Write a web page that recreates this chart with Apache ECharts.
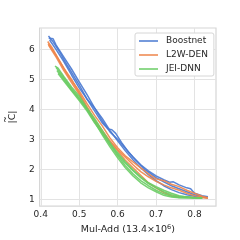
<!DOCTYPE html>
<html><head><meta charset="utf-8">
<script src="https://cdn.jsdelivr.net/npm/echarts@6/dist/echarts.min.js"></script>
<style>html,body{margin:0;padding:0;background:#fff}#c{width:240px;height:240px}</style>
</head><body><div id="c"></div>
<script>
const xTicks = [0.4, 0.5, 0.6, 0.7, 0.8];
const yTicks = [1, 2, 3, 4, 5, 6];
const seriesNames = ['Boostnet', 'L2W-DEN', 'JEI-DNN'];
const colors = ['#4878d0', '#ee854a', '#6acc64'];

const boost1 = [[0.420,6.45],[0.425,6.38],[0.432,6.36],[0.44,6.15],[0.46,5.75],[0.48,5.35],[0.50,4.92],[0.52,4.5],[0.54,4.05],[0.56,3.62],[0.58,3.25],[0.60,3.0],[0.62,2.7],[0.64,2.4],[0.66,2.15],[0.68,1.95],[0.70,1.78],[0.72,1.65],[0.735,1.57],[0.745,1.58],[0.76,1.48],[0.78,1.38],[0.79,1.35],[0.80,1.2],[0.82,1.12],[0.835,1.08]];
const boost2 = [[0.421,6.40],[0.43,6.3],[0.45,5.9],[0.47,5.45],[0.50,4.82],[0.52,4.35],[0.54,3.95],[0.56,3.55],[0.575,3.35],[0.585,3.32],[0.595,3.2],[0.61,2.9],[0.63,2.55],[0.65,2.28],[0.67,2.0],[0.70,1.72],[0.72,1.58],[0.74,1.45],[0.76,1.35],[0.78,1.25],[0.80,1.15],[0.82,1.08],[0.835,1.05]];
const boost3 = [[0.423,6.32],[0.44,6.0],[0.46,5.6],[0.48,5.15],[0.50,4.72],[0.52,4.35],[0.54,4.05],[0.56,3.7],[0.58,3.3],[0.60,2.95],[0.62,2.62],[0.64,2.32],[0.66,2.05],[0.68,1.82],[0.70,1.62],[0.72,1.45],[0.74,1.32],[0.76,1.22],[0.78,1.15],[0.80,1.1],[0.82,1.07],[0.835,1.05]];

const l2w1 = [[0.418,6.27],[0.43,6.05],[0.45,5.6],[0.47,5.15],[0.50,4.62],[0.52,4.2],[0.54,3.8],[0.56,3.45],[0.58,3.05],[0.60,2.72],[0.62,2.45],[0.64,2.25],[0.66,2.05],[0.68,1.85],[0.70,1.68],[0.72,1.62],[0.74,1.5],[0.76,1.42],[0.78,1.3],[0.80,1.2],[0.82,1.1],[0.835,1.05]];
const l2w2 = [[0.419,6.2],[0.44,5.8],[0.46,5.38],[0.48,5.0],[0.50,4.55],[0.52,4.1],[0.54,3.65],[0.56,3.3],[0.58,2.95],[0.60,2.65],[0.62,2.4],[0.64,2.15],[0.66,1.92],[0.68,1.75],[0.70,1.6],[0.72,1.48],[0.74,1.38],[0.76,1.3],[0.78,1.2],[0.80,1.12],[0.82,1.07],[0.835,1.04]];
const l2w3 = [[0.42,6.15],[0.44,5.75],[0.46,5.3],[0.48,4.9],[0.50,4.5],[0.52,4.05],[0.54,3.62],[0.56,3.25],[0.58,2.92],[0.60,2.62],[0.62,2.3],[0.64,2.05],[0.66,1.8],[0.68,1.55],[0.70,1.38],[0.72,1.22],[0.74,1.12],[0.76,1.07],[0.78,1.08],[0.80,1.06],[0.835,1.04]];

const jei1 = [[0.437,5.45],[0.445,5.38],[0.46,5.1],[0.48,4.75],[0.50,4.45],[0.52,4.05],[0.54,3.7],[0.56,3.3],[0.58,2.9],[0.60,2.5],[0.62,2.2],[0.64,1.95],[0.66,1.72],[0.68,1.52],[0.70,1.38],[0.72,1.25],[0.74,1.15],[0.76,1.1],[0.78,1.08],[0.80,1.05],[0.82,1.04]];
const jei2 = [[0.44,5.4],[0.46,5.05],[0.48,4.7],[0.50,4.38],[0.52,4.0],[0.54,3.62],[0.56,3.22],[0.58,2.82],[0.60,2.45],[0.62,2.12],[0.64,1.85],[0.66,1.62],[0.68,1.45],[0.70,1.3],[0.72,1.18],[0.74,1.1],[0.76,1.06],[0.80,1.04],[0.82,1.03]];
const jei3 = [[0.442,5.3],[0.46,5.0],[0.48,4.65],[0.50,4.35],[0.52,4.0],[0.54,3.58],[0.56,3.15],[0.58,2.75],[0.60,2.38],[0.62,2.05],[0.64,1.78],[0.66,1.55],[0.68,1.38],[0.70,1.25],[0.72,1.13],[0.74,1.07],[0.76,1.05],[0.80,1.04],[0.82,1.03]];
const jei4 = [[0.445,5.2],[0.46,4.95],[0.48,4.62],[0.50,4.3],[0.52,3.95],[0.54,3.55],[0.56,3.2],[0.58,2.85],[0.60,2.55],[0.62,2.25],[0.64,1.98],[0.66,1.75],[0.68,1.55],[0.70,1.42],[0.72,1.3],[0.74,1.2],[0.76,1.12],[0.78,1.07],[0.80,1.05],[0.82,1.04]];

const runs = [[boost1, boost2, boost3], [l2w1, l2w2, l2w3], [jei1, jei2, jei3, jei4]];

const FONT = 'DejaVu Sans';
const TXT = '#262626';
const series = [];
runs.forEach((group, gi) => {
  group.forEach(run => {
    series.push({
      type: 'line', name: seriesNames[gi], data: run, showSymbol: false,
      symbol: 'none', silent: true, animation: false,
      lineStyle: {color: colors[gi], width: 1.5, opacity: 0.9},
      itemStyle: {color: colors[gi]}
    });
  });
});

const chart = echarts.init(document.getElementById('c'), null, {renderer: 'canvas'});
chart.setOption({
  animation: false,
  backgroundColor: '#fff',
  grid: {left: 29.5, right: 24, top: 28, bottom: 30, show: true, borderColor: '#d6d6d6', borderWidth: 1.2, backgroundColor: 'transparent'},
  xAxis: {
    type: 'value', min: 0.397, max: 0.856,
    name: 'Mul-Add (13.4×10{sup|6})', nameLocation: 'middle', nameGap: 15,
    nameTextStyle: {fontFamily: FONT, fontSize: 9.5, color: TXT, rich: {sup: {fontSize: 6.5, verticalAlign: 'top', padding: [0,0,5,0], fontFamily: FONT, color: TXT}}},
    axisLine: {show: false}, axisTick: {show: false, customValues: xTicks},
    axisLabel: {customValues: xTicks, fontFamily: FONT, fontSize: 9, color: TXT, margin: 4, formatter: v => v.toFixed(1)},
    splitLine: {show: true, lineStyle: {color: '#e3e3e3', width: 1}}
  },
  yAxis: {
    type: 'value', min: 0.77, max: 6.72,
    name: '|C|', nameLocation: 'middle', nameGap: 19, nameRotate: 90,
    nameTextStyle: {fontFamily: FONT, fontSize: 9.5, color: TXT},
    axisLine: {show: false}, axisTick: {show: false, customValues: yTicks},
    axisLabel: {customValues: yTicks, fontFamily: FONT, fontSize: 9, color: TXT, margin: 5},
    splitLine: {show: true, lineStyle: {color: '#e3e3e3', width: 1}}
  },
  graphic: [{
    type: 'text', x: 6, y: 119.5, rotation: Math.PI / 2, silent: true,
    style: {text: '~', font: '8px "DejaVu Sans"', fill: TXT, align: 'center', verticalAlign: 'middle'}
  }],
  legend: {
    data: seriesNames.map((n, i) => ({name: n, icon: 'rect', itemStyle: {color: colors[i]}})),
    orient: 'vertical', left: 135, top: 33, width: 76,
    padding: [2, 6, 1, 4], itemGap: 2, itemWidth: 19, itemHeight: 1.5,
    backgroundColor: '#fff', borderColor: '#d6d6d6', borderWidth: 1, borderRadius: 2,
    selectedMode: false,
    textStyle: {fontFamily: FONT, fontSize: 9, color: TXT, lineHeight: 12, padding: [0, 0, 0, 3]}
  },
  series: series
});
</script></body></html>
